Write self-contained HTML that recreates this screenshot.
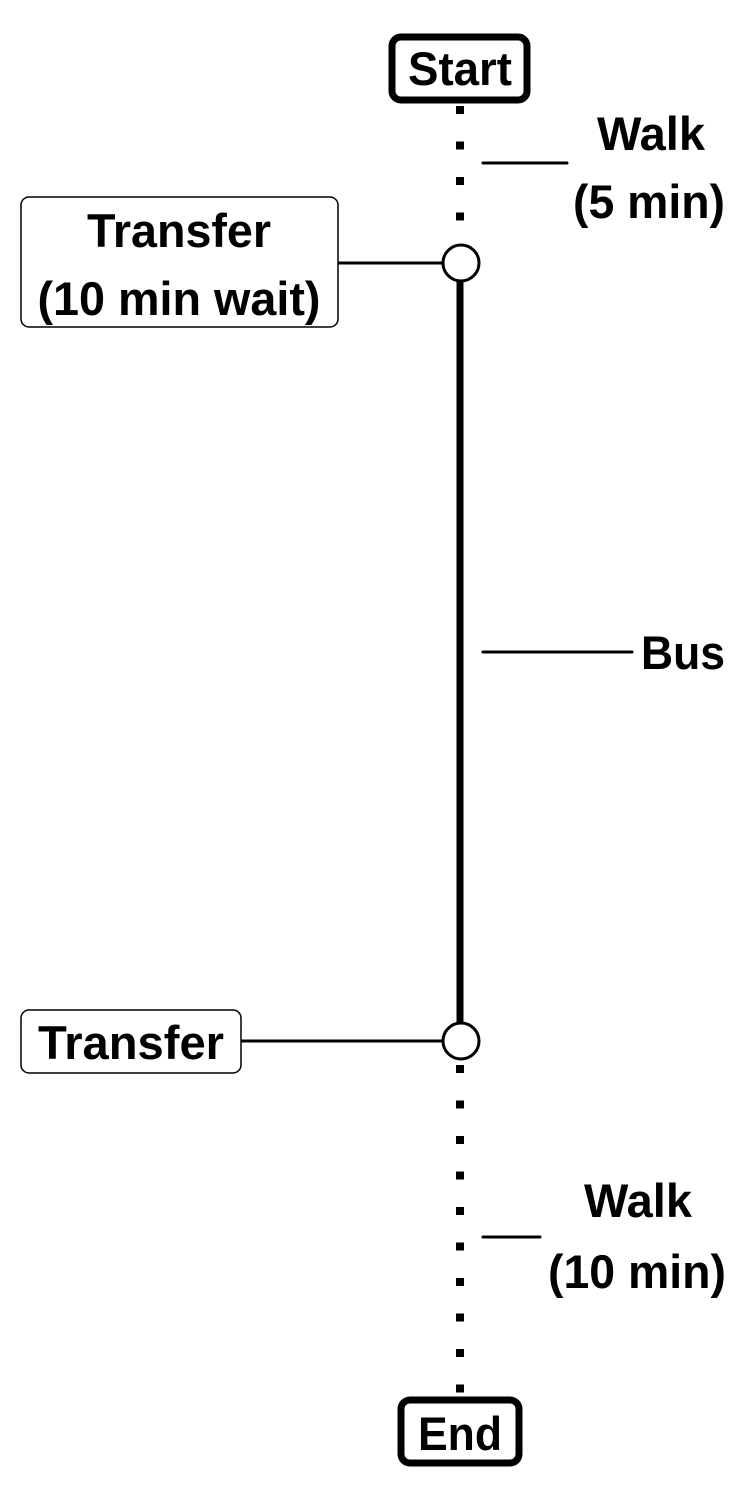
<!DOCTYPE html>
<html><head><meta charset="utf-8"><style>
html,body{margin:0;padding:0;background:#fff;}
svg{display:block;}
text{font-family:"Liberation Sans",Arial,sans-serif;font-weight:bold;font-size:47px;fill:#000;}
</style></head><body>
<svg width="750" height="1500" viewBox="0 0 750 1500" xmlns="http://www.w3.org/2000/svg">
<line x1="460" y1="106" x2="460" y2="245" stroke="#000" stroke-width="8" stroke-dasharray="8 27.5"/>
<line x1="460" y1="1065" x2="460" y2="1395" stroke="#000" stroke-width="8" stroke-dasharray="8 27.5"/>
<line x1="460" y1="280" x2="460" y2="1024" stroke="#000" stroke-width="7"/>
<circle cx="461" cy="263" r="18" fill="#fff" stroke="#000" stroke-width="3"/>
<circle cx="461" cy="1041" r="18" fill="#fff" stroke="#000" stroke-width="3"/>
<line x1="338" y1="263" x2="443" y2="263" stroke="#000" stroke-width="3"/>
<line x1="241" y1="1041" x2="443" y2="1041" stroke="#000" stroke-width="3"/>
<line x1="483" y1="163" x2="567" y2="163" stroke="#000" stroke-width="3" stroke-linecap="round"/>
<line x1="483" y1="652" x2="632" y2="652" stroke="#000" stroke-width="3" stroke-linecap="round"/>
<line x1="483" y1="1237" x2="540" y2="1237" stroke="#000" stroke-width="3" stroke-linecap="round"/>
<rect x="392" y="37" width="135" height="63" rx="9" fill="#fff" stroke="#000" stroke-width="7"/>
<text x="460" y="85" text-anchor="middle" textLength="104" lengthAdjust="spacingAndGlyphs">Start</text>
<rect x="401" y="1400" width="118" height="63" rx="9" fill="#fff" stroke="#000" stroke-width="7"/>
<text x="460" y="1450" text-anchor="middle" textLength="84" lengthAdjust="spacingAndGlyphs">End</text>
<rect x="21" y="197" width="317" height="130" rx="8" fill="#fff" stroke="#000" stroke-width="1.5"/>
<text x="179" y="247" text-anchor="middle" textLength="184" lengthAdjust="spacingAndGlyphs">Transfer</text>
<text x="179" y="315" text-anchor="middle" textLength="283" lengthAdjust="spacingAndGlyphs">(10 min wait)</text>
<rect x="21" y="1010" width="220" height="63" rx="8" fill="#fff" stroke="#000" stroke-width="1.5"/>
<text x="131" y="1059" text-anchor="middle" textLength="186" lengthAdjust="spacingAndGlyphs">Transfer</text>
<text x="651" y="150" text-anchor="middle" textLength="108" lengthAdjust="spacingAndGlyphs">Walk</text>
<text x="649" y="218" text-anchor="middle" textLength="152" lengthAdjust="spacingAndGlyphs">(5 min)</text>
<text x="683" y="669" text-anchor="middle" textLength="84" lengthAdjust="spacingAndGlyphs">Bus</text>
<text x="638" y="1217" text-anchor="middle" textLength="108" lengthAdjust="spacingAndGlyphs">Walk</text>
<text x="637" y="1288" text-anchor="middle" textLength="178" lengthAdjust="spacingAndGlyphs">(10 min)</text>
</svg>
</body></html>
